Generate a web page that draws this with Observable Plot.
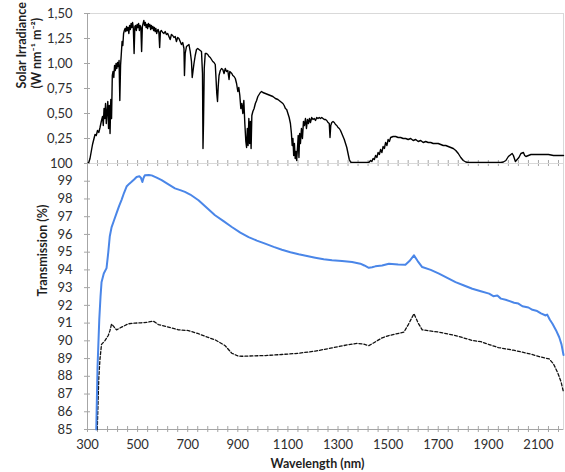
<!DOCTYPE html>
<html><head><meta charset="utf-8">
<script src="https://cdn.jsdelivr.net/npm/d3@7"></script>
<script src="https://cdn.jsdelivr.net/npm/@observablehq/plot@0.6"></script>
<style>
body{margin:0;background:#fff;}
#chart{width:565px;height:472px;position:relative;overflow:hidden;}
#chart svg{position:absolute;left:0;}
</style></head><body><div id="chart"></div>
<script>
// Solar irradiance spectrum (W nm-1 m-2)
const solarWl = [300,305,310,315,320,325,330,335,340,345,350,355,360,363,366,369,372,375,378,381,384,387,390,393,396,399,402,405,408,411,414,417,420,423,426,429,432,435,438,441,444,447,450,453,456,459,462,465,468,471,474,477,480,483,486,489,492,495,498,501,504,507,510,513,516,519,522,525,528,531,534,537,540,543,546,549,552,555,558,561,564,567,570,573,576,579,582,585,588,591,595,600,605,610,615,620,625,630,635,640,645,650,655,660,665,670,675,680,685,687,690,695,700,705,710,715,718,721,725,730,735,740,745,750,755,759,761,763,766,770,775,780,785,790,795,800,805,810,813,816,819,822,825,830,835,840,845,850,855,860,865,868,872,876,880,885,890,895,900,904,908,912,916,920,924,928,932,935,938,941,944,947,950,953,956,960,965,970,975,980,985,990,995,1000,1010,1020,1030,1040,1050,1060,1070,1080,1085,1090,1095,1100,1105,1110,1114,1117,1120,1123,1126,1129,1132,1135,1138,1141,1144,1147,1150,1154,1158,1162,1166,1170,1174,1178,1182,1186,1190,1195,1200,1205,1210,1215,1220,1225,1230,1235,1240,1245,1250,1255,1260,1265,1268,1271,1275,1280,1285,1290,1295,1300,1305,1310,1315,1320,1325,1330,1335,1340,1345,1350,1355,1400,1420,1425,1430,1435,1440,1445,1450,1455,1460,1465,1470,1475,1480,1485,1490,1495,1500,1505,1510,1520,1530,1540,1550,1560,1570,1580,1590,1600,1610,1620,1630,1640,1650,1660,1670,1680,1690,1700,1710,1720,1730,1740,1750,1760,1770,1780,1790,1800,1810,1820,1950,1960,1970,1980,1990,1995,2000,2008,2015,2022,2030,2040,2045,2050,2060,2070,2080,2100,2120,2140,2160,2180,2200];
const solarIrr = [0.00,0.01,0.05,0.12,0.19,0.24,0.29,0.28,0.33,0.31,0.36,0.42,0.47,0.38,0.55,0.45,0.60,0.40,0.52,0.62,0.35,0.58,0.30,0.64,0.45,0.88,0.92,0.86,0.98,0.93,1.00,0.95,1.01,0.97,1.03,0.63,0.98,1.10,1.22,1.18,1.30,1.33,1.35,1.32,1.37,1.33,1.36,1.30,1.38,1.34,1.40,1.36,1.41,1.35,1.10,1.37,1.38,1.33,1.39,1.36,1.40,1.33,1.38,1.36,1.12,1.37,1.40,1.43,1.38,1.41,1.36,1.39,1.35,1.40,1.37,1.39,1.34,1.38,1.35,1.37,1.33,1.36,1.32,1.35,1.30,1.33,1.34,1.31,1.16,1.32,1.33,1.31,1.30,1.32,1.29,1.30,1.27,1.24,1.29,1.28,1.26,1.27,1.22,1.26,1.25,1.22,1.19,1.21,1.15,0.88,1.10,1.17,1.18,1.19,1.12,1.02,0.86,0.92,1.00,1.08,1.14,1.15,1.14,1.13,1.12,0.90,0.15,0.40,0.95,1.10,1.10,1.09,1.07,1.06,1.04,1.02,1.01,0.99,0.85,0.70,0.62,0.78,0.88,0.93,0.95,0.94,0.90,0.95,0.92,0.93,0.84,0.92,0.91,0.90,0.88,0.87,0.85,0.80,0.72,0.76,0.68,0.55,0.60,0.50,0.63,0.40,0.22,0.16,0.35,0.18,0.45,0.20,0.42,0.15,0.48,0.52,0.55,0.60,0.63,0.67,0.69,0.71,0.72,0.71,0.70,0.69,0.68,0.67,0.65,0.64,0.62,0.60,0.58,0.55,0.54,0.50,0.46,0.40,0.30,0.18,0.25,0.08,0.20,0.05,0.12,0.03,0.15,0.28,0.06,0.30,0.20,0.35,0.25,0.42,0.38,0.45,0.35,0.44,0.40,0.45,0.41,0.46,0.44,0.45,0.43,0.46,0.45,0.46,0.45,0.46,0.45,0.44,0.44,0.43,0.41,0.40,0.26,0.38,0.41,0.42,0.41,0.39,0.38,0.36,0.35,0.33,0.30,0.27,0.24,0.20,0.16,0.10,0.04,0.015,0.01,0.01,0.01,0.015,0.03,0.02,0.05,0.04,0.08,0.06,0.11,0.09,0.14,0.11,0.17,0.15,0.21,0.18,0.24,0.22,0.26,0.27,0.27,0.26,0.26,0.25,0.25,0.24,0.25,0.23,0.24,0.22,0.23,0.21,0.22,0.21,0.21,0.20,0.20,0.20,0.19,0.18,0.18,0.17,0.16,0.15,0.13,0.10,0.06,0.03,0.015,0.01,0.01,0.015,0.03,0.07,0.09,0.10,0.08,0.02,0.04,0.06,0.10,0.11,0.08,0.07,0.08,0.09,0.09,0.09,0.09,0.09,0.08,0.08,0.08];

// Transmission (%) - blue solid series
const blueWl = [335,340,347,352,356,365,376,383,389,396,406,416,426,436,446,456,466,476,486,496,507,513,519,524,529,545,556,576,596,620,649,670,689,710,743,776,809,843,876,910,943,976,1009,1043,1076,1110,1143,1176,1209,1243,1276,1316,1356,1389,1405,1423,1436,1449,1476,1503,1540,1569,1585,1603,1618,1636,1670,1703,1736,1769,1803,1836,1870,1903,1920,1936,1950,1969,2003,2020,2036,2060,2076,2095,2110,2129,2135,2145,2156,2170,2183,2192,2200];
const blueT = [85.0,88.5,91.2,92.5,93.3,93.8,94.1,95.0,95.9,96.4,96.8,97.2,97.6,97.95,98.35,98.7,98.85,98.97,99.1,99.24,99.28,99.2,98.96,99.2,99.34,99.35,99.33,99.2,99.06,98.85,98.6,98.5,98.4,98.25,97.93,97.5,97.08,96.75,96.42,96.1,95.85,95.65,95.48,95.3,95.14,95.0,94.88,94.78,94.69,94.6,94.54,94.5,94.44,94.35,94.25,94.12,94.15,94.2,94.25,94.35,94.3,94.29,94.5,94.82,94.5,94.16,94.0,93.79,93.55,93.31,93.12,92.94,92.8,92.66,92.52,92.55,92.38,92.32,92.15,92.1,91.95,91.88,91.75,91.68,91.55,91.43,91.48,91.2,90.96,90.6,90.2,89.8,89.2];

// Transmission (%) - black dashed series
const dashWl = [339,345,350,356,369,383,390,396,405,416,436,463,490,516,540,563,583,623,663,703,743,776,809,849,876,900,916,960,1009,1076,1143,1209,1276,1343,1376,1400,1423,1450,1476,1503,1563,1580,1603,1620,1636,1703,1769,1836,1870,1903,1940,1969,2000,2036,2070,2103,2143,2160,2176,2190,2200];
const dashT = [85.0,87.9,89.0,89.8,90.0,90.3,90.6,90.95,90.8,90.62,90.77,90.96,91.0,91.02,91.05,91.11,90.92,90.77,90.62,90.58,90.4,90.22,90.06,89.73,89.3,89.15,89.13,89.15,89.17,89.23,89.3,89.42,89.6,89.79,89.86,89.82,89.73,89.95,90.17,90.3,90.49,90.9,91.53,91.0,90.62,90.49,90.3,90.02,89.95,89.79,89.62,89.55,89.47,89.36,89.25,89.11,88.98,88.7,88.23,87.7,87.1];

// Tick values and labels
const irrTicks = [0.25,0.5,0.75,1.0,1.25,1.5];
const transTicks = [85,86,87,88,89,90,91,92,93,94,95,96,97,98,99,100];
const wlLabelTicks = [300,500,700,900,1100,1300,1500,1700,1900,2100];
const wlMinorTicks = d3.range(300, 2201, 40);
const irrTitle = "Solar Irradiance\n(W nm⁻¹ m⁻²)";
const transTitle = "Transmission (%)";
const wlTitle = "Wavelength (nm)";

const solar = solarWl.map((w, i) => ({wl: w, v: solarIrr[i]}));
const blue = blueWl.map((w, i) => ({wl: w, v: blueT[i]}));
const dashed = dashWl.map((w, i) => ({wl: w, v: dashT[i]}));

const axisGray = "#a6a6a6";
const frameGray = "#d9d9d9";
const textCol = "#2e2e2e";
const font = "Lato, 'Open Sans', sans-serif";
const commaFmt = d => d3.format(".2f")(d).replace(".", ",");
const style = {fontFamily: font, fontSize: "13px", background: "transparent", overflow: "visible", color: textCol};
const W = 565, ML = 87, MR = 2;

const topPlot = Plot.plot({
  width: W, height: 163, marginTop: 13, marginBottom: 0, marginLeft: ML, marginRight: MR,
  x: {domain: [300, 2200]},
  y: {domain: [0, 1.5]},
  style,
  marks: [
    Plot.frame({stroke: frameGray}),
    Plot.ruleX([300], {stroke: axisGray}),
    Plot.ruleY([0], {stroke: axisGray}),
    Plot.axisY({ticks: irrTicks, anchor: "left", tickSize: 6, dx: 3, tickFormat: () => "", stroke: axisGray, label: null}),
    Plot.axisY({ticks: irrTicks, anchor: "left", tickSize: 0, tickPadding: 15, tickFormat: commaFmt, fill: textCol, label: null}),
    Plot.axisX({ticks: wlMinorTicks, anchor: "bottom", tickSize: 6, dy: -3, tickFormat: () => "", stroke: axisGray, label: null}),
    Plot.line(solar, {x: "wl", y: "v", stroke: "#000", strokeWidth: 1.4}),
    Plot.text([irrTitle], {frameAnchor: "left", rotate: -90, dx: -59, lineHeight: 1.2, fontWeight: "bold", fontSize: 12.5, fill: "#1e1e1e"})
  ]
});

const botPlot = Plot.plot({
  width: W, height: 309, marginTop: 0, marginBottom: 43, marginLeft: ML, marginRight: MR,
  x: {domain: [300, 2200]},
  y: {domain: [85, 100]},
  style,
  marks: [
    Plot.frame({stroke: frameGray}),
    Plot.ruleX([300], {stroke: axisGray}),
    Plot.ruleY([85], {stroke: axisGray}),
    Plot.axisY({ticks: transTicks, anchor: "left", tickSize: 6, dx: 3, tickFormat: () => "", stroke: axisGray, label: null}),
    Plot.axisY({ticks: transTicks, anchor: "left", tickSize: 0, tickPadding: 15, tickFormat: d => String(d), fill: textCol, label: null}),
    Plot.axisX({ticks: wlMinorTicks, anchor: "bottom", tickSize: 6, dy: -3, tickFormat: () => "", stroke: axisGray, label: null}),
    Plot.axisX({ticks: wlLabelTicks, anchor: "bottom", tickSize: 0, tickPadding: 10, tickFormat: d => String(d), fill: textCol, label: null}),
    Plot.line(dashed, {x: "wl", y: "v", stroke: "#111", strokeWidth: 1.3, strokeDasharray: "3,2"}),
    Plot.line(blue, {x: "wl", y: "v", stroke: "#4a86e8", strokeWidth: 2}),
    Plot.text([transTitle], {frameAnchor: "left", rotate: -90, dx: -45, fontWeight: "bold", fontSize: 12.5, fill: "#1e1e1e"}),
    Plot.text([wlTitle], {frameAnchor: "bottom", dy: 38, dx: -8, fontWeight: "bold", fontSize: 12.5, fill: "#1e1e1e"})
  ]
});

const chart = document.getElementById("chart");
topPlot.style.top = "0px";
botPlot.style.top = "163px";
chart.appendChild(topPlot);
chart.appendChild(botPlot);
</script>
</body></html>
